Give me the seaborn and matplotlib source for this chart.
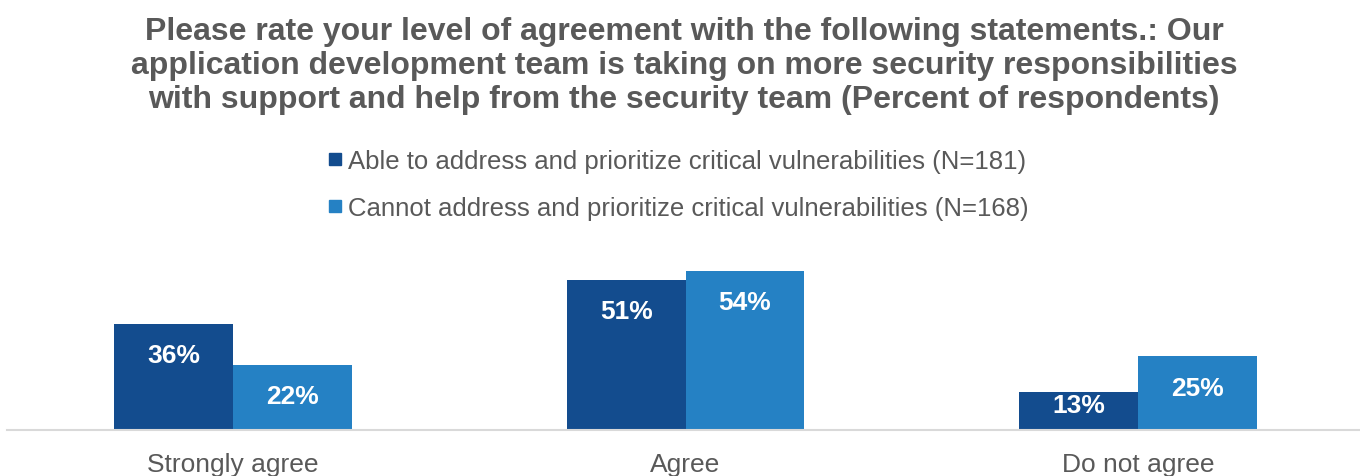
import matplotlib
matplotlib.use("Agg")
import matplotlib.pyplot as plt
from matplotlib.lines import Line2D
import seaborn as sns
import pandas as pd

categories = ["Strongly agree", "Agree", "Do not agree"]
groups = [
    "Able to address and prioritize critical vulnerabilities (N=181)",
    "Cannot address and prioritize critical vulnerabilities (N=168)",
]
able_values = [36, 51, 13]
cannot_values = [22, 54, 25]
colors = ["#134C8E", "#2581C4"]
title = ("Please rate your level of agreement with the following statements.: Our\n"
         "application development team is taking on more security responsibilities\n"
         "with support and help from the security team (Percent of respondents)")

df = pd.DataFrame({
    "category": categories * 2,
    "group": [groups[0]] * len(categories) + [groups[1]] * len(categories),
    "value": able_values + cannot_values,
})

sns.set_theme(style="white")
plt.rcParams["font.family"] = ["Liberation Sans", "DejaVu Sans"]
text_gray = "#595959"

fig = plt.figure(figsize=(13.6, 4.77), dpi=100)
ax = fig.add_axes([6.75 / 1360, 46 / 477, 1357.5 / 1360, 181 / 477])

sns.barplot(data=df, x="category", y="value", hue="group", order=categories,
            hue_order=groups, palette=colors, width=0.524, gap=0,
            saturation=1, legend=False, ax=ax, edgecolor="none")

ax.set_xlim(-0.5, 2.5)
ax.set_ylim(0, 181 / 2.944)
ax.set_xlabel("")
ax.set_ylabel("")
ax.set_yticks([])
for s in ["top", "right", "left"]:
    ax.spines[s].set_visible(False)
ax.spines["bottom"].set_color("#D9D9D9")
ax.spines["bottom"].set_linewidth(1.5)
ax.tick_params(axis="x", length=0, pad=16, labelsize=19, labelcolor=text_gray)

# value labels inside the bar tops
for container in ax.containers:
    for bar in container:
        v = bar.get_height()
        y = v - 10.6 if v - 10.6 > 10 else v * 0.65
        ax.text(bar.get_x() + bar.get_width() / 2, y, f"{v:.0f}%",
                ha="center", va="center", color="white", fontsize=19,
                fontweight="bold")

fig.text(0.503, 1 - 17 / 477, title, ha="center", va="top", fontsize=23,
         fontweight="bold", color=text_gray, linespacing=1.18)

handles = [Line2D([0], [0], marker="s", linestyle="none", markersize=9,
                  markerfacecolor=c, markeredgecolor=c) for c in colors]
fig.legend(handles, groups, loc="center",
           bbox_to_anchor=(0.498, 1 - 185.5 / 477),
           frameon=False, fontsize=18.5, labelcolor=text_gray, handletextpad=0.15,
           labelspacing=0.93, handlelength=0.7)

fig.savefig("out.png", dpi=100)
